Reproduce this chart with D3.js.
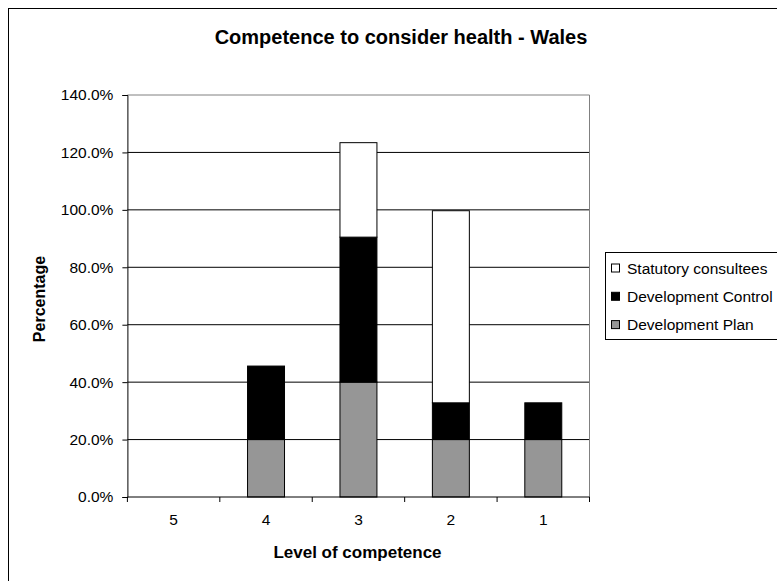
<!DOCTYPE html>
<html>
<head>
<meta charset="utf-8">
<script src="https://cdn.jsdelivr.net/npm/d3@7/dist/d3.min.js"></script>
<style>
  html, body { margin: 0; padding: 0; background: #fff; }
  svg { display: block; font-family: "Liberation Sans", Arial, sans-serif; }
</style>
</head>
<body>
<svg id="chart" width="777" height="581"></svg>
<script>
// Competence levels (x axis) and stacked series values in percent
const categories = ["5", "4", "3", "2", "1"];
const developmentPlan = [0, 20, 40, 20, 20];
const developmentControl = [0, 25.6, 50.5, 12.8, 12.8];
const statutoryConsultees = [0, 0, 32.9, 66.9, 0];
const yTicks = [0, 20, 40, 60, 80, 100, 120, 140];

const seriesNames = ["Development Plan", "Development Control", "Statutory consultees"];
const seriesColors = ["#969696", "#000000", "#ffffff"];

const rows = categories.map((c, i) => ({
  cat: c,
  "Development Plan": developmentPlan[i],
  "Development Control": developmentControl[i],
  "Statutory consultees": statutoryConsultees[i]
}));

const svg = d3.select("#chart");

// Outer chart frame
svg.append("rect")
  .attr("x", 8.5).attr("y", 8.5)
  .attr("width", 820).attr("height", 620)
  .attr("fill", "#fff").attr("stroke", "#000").attr("stroke-width", 1);

const plot = { left: 127.4, right: 589.5, top: 95, bottom: 497 };

const x = d3.scaleBand()
  .domain(categories)
  .range([plot.left, plot.right])
  .paddingInner(0.6)
  .paddingOuter(0.3);

const y = d3.scaleLinear()
  .domain([0, 140])
  .range([plot.bottom, plot.top]);

// Title
svg.append("text")
  .attr("x", 401).attr("y", 43.5)
  .attr("text-anchor", "middle")
  .attr("font-weight", "bold")
  .attr("font-size", 20)
  .text("Competence to consider health - Wales");

// Gridlines
svg.append("g")
  .selectAll("line")
  .data(yTicks.filter(t => t > 0 && t < 140))
  .join("line")
  .attr("x1", plot.left).attr("x2", plot.right)
  .attr("y1", d => y(d)).attr("y2", d => y(d))
  .attr("stroke", "#000").attr("stroke-width", 1);

// Plot area border (top and right)
svg.append("path")
  .attr("d", `M${plot.left},${y(140)}H${plot.right}V${plot.bottom}`)
  .attr("fill", "none").attr("stroke", "#808080").attr("stroke-width", 1);

// Stacked bars
const stack = d3.stack().keys(seriesNames);
const stacked = stack(rows);

svg.append("g")
  .selectAll("g")
  .data(stacked)
  .join("g")
  .attr("fill", (d, i) => seriesColors[i])
  .selectAll("rect")
  .data(d => d.filter(p => p[1] - p[0] > 0))
  .join("rect")
  .attr("x", d => x(d.data.cat))
  .attr("width", x.bandwidth())
  .attr("y", d => y(d[1]))
  .attr("height", d => y(d[0]) - y(d[1]))
  .attr("stroke", "#000").attr("stroke-width", 1);

// Y axis
const yAxis = d3.axisLeft(y)
  .tickValues(yTicks)
  .tickSize(5)
  .tickPadding(9)
  .tickFormat(d => d3.format(".1%")(d / 100));

const gy = svg.append("g")
  .attr("transform", `translate(${plot.left},0)`)
  .call(yAxis);
gy.select(".domain").attr("stroke", "#000");
gy.selectAll(".tick line").attr("stroke", "#000");
gy.selectAll(".tick text")
  .attr("font-size", 15.5)
  .attr("font-family", "Liberation Sans, Arial, sans-serif")
  .attr("fill", "#000");

// X axis line with tick marks at category boundaries
const boundaries = d3.range(categories.length + 1).map(i => plot.left + i * (plot.right - plot.left) / categories.length);
svg.append("line")
  .attr("x1", plot.left).attr("x2", plot.right)
  .attr("y1", plot.bottom).attr("y2", plot.bottom)
  .attr("stroke", "#000");
svg.append("g")
  .selectAll("line")
  .data(boundaries)
  .join("line")
  .attr("x1", d => d).attr("x2", d => d)
  .attr("y1", plot.bottom).attr("y2", plot.bottom + 5)
  .attr("stroke", "#000");

svg.append("g")
  .selectAll("text")
  .data(categories)
  .join("text")
  .attr("x", d => x(d) + x.bandwidth() / 2)
  .attr("y", 525)
  .attr("text-anchor", "middle")
  .attr("font-size", 15.5)
  .text(d => d);

// Axis titles
svg.append("text")
  .attr("x", 357.5).attr("y", 558)
  .attr("text-anchor", "middle")
  .attr("font-weight", "bold")
  .attr("font-size", 17)
  .text("Level of competence");

svg.append("text")
  .attr("transform", "translate(45,299) rotate(-90)")
  .attr("text-anchor", "middle")
  .attr("font-weight", "bold")
  .attr("font-size", 16)
  .text("Percentage");

// Legend
const legend = svg.append("g");
legend.append("rect")
  .attr("x", 605.5).attr("y", 252.5)
  .attr("width", 220).attr("height", 87)
  .attr("fill", "#fff").attr("stroke", "#000");

const legendOrder = [2, 1, 0];
legendOrder.forEach((si, k) => {
  const cy = 268 + k * 28.3;
  legend.append("rect")
    .attr("x", 611.5).attr("y", cy - 4)
    .attr("width", 8).attr("height", 8)
    .attr("fill", seriesColors[si]).attr("stroke", "#000");
  legend.append("text")
    .attr("x", 627).attr("y", cy + 5.5)
    .attr("font-size", 15.5)
    .text(seriesNames[si]);
});
</script>
</body>
</html>
